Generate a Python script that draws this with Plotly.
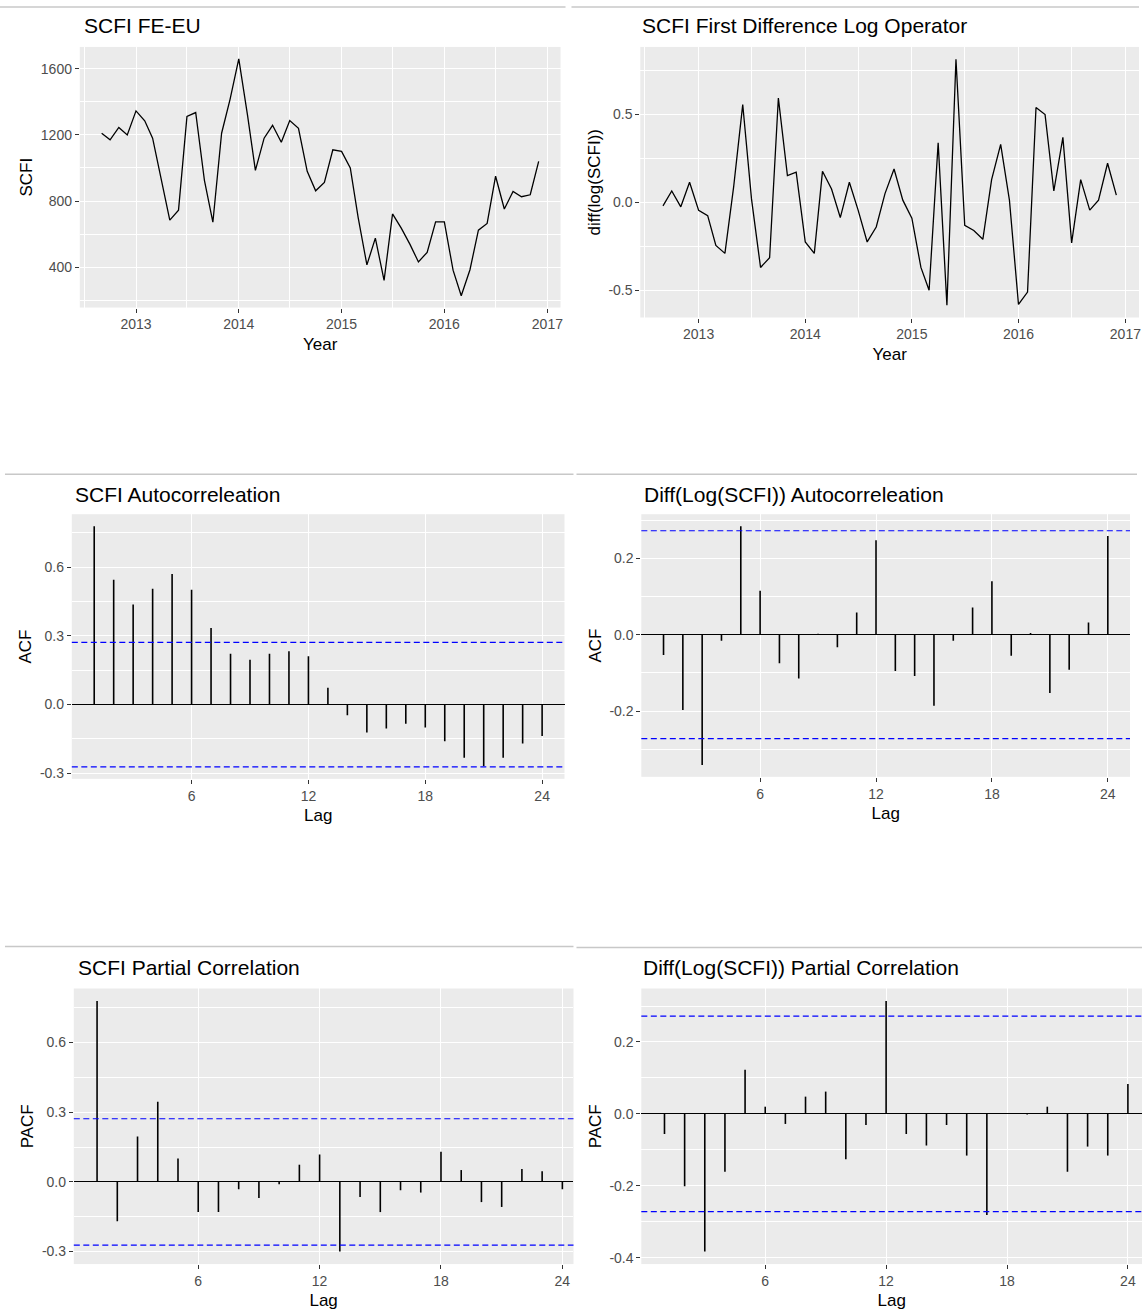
import plotly.graph_objects as go
import pandas as pd

W, H = 1145, 1313
FONT = "Liberation Sans, Arial, sans-serif"

# ---------------- data ----------------
months = pd.date_range("2012-09-01", periods=52, freq="MS")

scfi = [1210, 1170, 1245, 1200, 1345, 1285, 1180, 930, 685, 745, 1312, 1335,
        925, 672, 1210, 1415, 1660, 1320, 985, 1180, 1258, 1155, 1287, 1240,
        980, 862, 912, 1110, 1100, 1000, 700, 414, 576, 320, 722, 636,
        538, 432, 490, 674, 674, 382, 228, 385, 624, 665, 950, 752,
        858, 826, 838, 1040]

dlog = [-0.02, 0.065, -0.025, 0.115, -0.045, -0.075, -0.245, -0.29, 0.09, 0.557, 0.02, -0.37,
        -0.315, 0.594, 0.153, 0.172, -0.225, -0.29, 0.177, 0.076, -0.086, 0.115, -0.044, -0.225,
        -0.14, 0.05, 0.19, 0.013, -0.09, -0.37, -0.50, 0.34, -0.585, 0.815, -0.13, -0.16,
        -0.21, 0.13, 0.33, 0.013, -0.58, -0.51, 0.54, 0.50, 0.065, 0.37, -0.23, 0.13,
        -0.044, 0.013, 0.223, 0.042]

lags = list(range(1, 25))

acf_scfi = [0.779, 0.545, 0.437, 0.506, 0.570, 0.501, 0.334, 0.222, 0.196, 0.222, 0.233, 0.211,
            0.073, -0.047, -0.122, -0.105, -0.084, -0.100, -0.160, -0.233, -0.269, -0.233, -0.170, -0.138]

acf_dlog = [-0.053, -0.197, -0.341, -0.016, 0.284, 0.115, -0.075, -0.115, 0.002, -0.033, 0.058, 0.247,
            -0.095, -0.108, -0.186, -0.016, 0.071, 0.140, -0.055, 0.004, -0.153, -0.092, 0.032, 0.258]

pacf_scfi = [0.779, -0.170, 0.196, 0.345, 0.101, -0.130, -0.130, -0.032, -0.069, -0.010, 0.074, 0.118,
             -0.300, -0.065, -0.130, -0.036, -0.046, 0.130, 0.051, -0.087, -0.108, 0.056, 0.046, -0.032]

pacf_dlog = [-0.056, -0.201, -0.383, -0.161, 0.123, 0.020, -0.028, 0.048, 0.062, -0.126, -0.031, 0.314,
             -0.056, -0.088, -0.031, -0.116, -0.281, 0.001, -0.002, 0.020, -0.161, -0.091, -0.116, 0.083]

ci_scfi = 0.272
ci_dlog = 0.272

titles = ["SCFI FE-EU", "SCFI First Difference Log Operator",
          "SCFI Autocorreleation", "Diff(Log(SCFI)) Autocorreleation",
          "SCFI Partial Correlation", "Diff(Log(SCFI)) Partial Correlation"]
xtitles = ["Year", "Year", "Lag", "Lag", "Lag", "Lag"]
ytitles = ["SCFI", "diff(log(SCFI))", "ACF", "ACF", "PACF", "PACF"]

year_ticks = ["2013-01-01", "2014-01-01", "2015-01-01", "2016-01-01", "2017-01-01"]
year_labels = ["2013", "2014", "2015", "2016", "2017"]
half_years = ["2012-07-01", "2013-07-01", "2014-07-01", "2015-07-01", "2016-07-01"]
lag_ticks = [6, 12, 18, 24]
lag_labels = ["6", "12", "18", "24"]

yt1 = [400, 800, 1200, 1600]; yl1 = ["400", "800", "1200", "1600"]; ym1 = [200, 600, 1000, 1400]
yt2 = [-0.5, 0.0, 0.5]; yl2 = ["-0.5", "0.0", "0.5"]; ym2 = [-0.25, 0.25, 0.75]
yt3 = [-0.3, 0.0, 0.3, 0.6]; yl3 = ["-0.3", "0.0", "0.3", "0.6"]; ym3 = [-0.15, 0.15, 0.45, 0.75]
yt4 = [-0.2, 0.0, 0.2]; yl4 = ["-0.2", "0.0", "0.2"]; ym4 = [-0.3, -0.1, 0.1, 0.3]
yt6 = [-0.4, -0.2, 0.0, 0.2]; yl6 = ["-0.4", "-0.2", "0.0", "0.2"]; ym6 = [-0.3, -0.1, 0.1, 0.3]

# ---------------- layout geometry (pixels) ----------------
boxes = {1: (80, 562, 47, 308), 2: (642, 1142, 47, 318),
         3: (72, 566, 515, 780), 4: (643, 1133, 515, 778),
         5: (74, 575, 990, 1266), 6: (643, 1145, 990, 1266)}
title_pos = {1: (82, 26), 2: (642, 26), 3: (73, 495), 4: (644, 495), 5: (76, 969), 6: (643, 969)}


def expand(lo, hi, f=0.05):
    d = (hi - lo) * f
    return [lo - d, hi + d]


def stems(xv, yv):
    xs, ys = [], []
    for a, b in zip(xv, yv):
        xs += [a, a, None]
        ys += [0, b, None]
    return xs, ys


t0, t1 = months[0], months[-1]
span = t1 - t0
date_range = [t0 - span * 0.05, t1 + span * 0.05]

fig = go.Figure()

fig.add_trace(go.Scatter(x=months, y=scfi, mode="lines", line=dict(color="black", width=1.3),
                         xaxis="x", yaxis="y", showlegend=False))
fig.add_trace(go.Scatter(x=months, y=dlog, mode="lines", line=dict(color="black", width=1.3),
                         xaxis="x2", yaxis="y2", showlegend=False))

acf_sets = {3: (acf_scfi, ci_scfi), 4: (acf_dlog, ci_dlog), 5: (pacf_scfi, ci_scfi), 6: (pacf_dlog, ci_dlog)}
for i, (vals, ci) in acf_sets.items():
    xs, ys = stems(lags, vals)
    fig.add_trace(go.Scatter(x=xs, y=ys, mode="lines", line=dict(color="black", width=1.6),
                             xaxis=f"x{i}", yaxis=f"y{i}", showlegend=False, connectgaps=False))

common = dict(showgrid=True, gridcolor="white", gridwidth=1.3, zeroline=False, showline=False,
              ticks="outside", ticklen=4, tickwidth=1, tickcolor="#333333",
              tickfont=dict(family=FONT, size=14, color="#4D4D4D"))

yinfo = {
    1: (yt1, yl1, ym1, expand(min(scfi), max(scfi))),
    2: (yt2, yl2, ym2, expand(min(dlog), max(dlog))),
    3: (yt3, yl3, ym3, expand(min(min(acf_scfi), -ci_scfi), max(max(acf_scfi), ci_scfi))),
    4: (yt4, yl4, ym4, expand(min(min(acf_dlog), -ci_dlog), max(max(acf_dlog), ci_dlog))),
    5: (yt3, yl3, ym3, expand(min(min(pacf_scfi), -ci_scfi), max(max(pacf_scfi), ci_scfi))),
    6: (yt6, yl6, ym6, expand(min(min(pacf_dlog), -ci_dlog), max(max(pacf_dlog), ci_dlog))),
}
lag_ranges = {3: [-0.15, 25.15], 4: [-0.15, 25.15], 5: [-0.15, 24.55], 6: [-0.15, 24.70]}

layout = dict(width=W, height=H, margin=dict(l=0, r=0, t=0, b=0),
              paper_bgcolor="white", plot_bgcolor="#EBEBEB", showlegend=False,
              font=dict(family=FONT))

for i in range(1, 7):
    l, r, t, b = boxes[i]
    xa = dict(common)
    xa.update(domain=[l / W, r / W], anchor=f"y{i}",
              title=dict(text=xtitles[i - 1], font=dict(family=FONT, size=17, color="black"), standoff=6))
    if i <= 2:
        xa.update(type="date", range=date_range, tickvals=year_ticks, ticktext=year_labels,
                  minor=dict(tickvals=half_years, showgrid=True, gridcolor="white", gridwidth=0.6, ticks=""))
    else:
        xa.update(range=lag_ranges[i], tickvals=lag_ticks, ticktext=lag_labels)
    ya = dict(common)
    tv, tl, tm, rng = yinfo[i]
    ya.update(domain=[1 - b / H, 1 - t / H], anchor=f"x{i}", range=rng, tickvals=tv, ticktext=tl,
              minor=dict(tickvals=tm, showgrid=True, gridcolor="white", gridwidth=0.6, ticks=""),
              title=dict(text=ytitles[i - 1], font=dict(family=FONT, size=17, color="black"), standoff=3))
    if i >= 3:
        ya.update(zeroline=True, zerolinecolor="black", zerolinewidth=1.2)
    sfx = "" if i == 1 else str(i)
    layout["xaxis" + sfx] = xa
    layout["yaxis" + sfx] = ya

annotations = []
for i in range(1, 7):
    tx, ty = title_pos[i]
    annotations.append(dict(text=titles[i - 1], x=tx / W, y=1 - ty / H, xref="paper", yref="paper",
                            xanchor="left", yanchor="middle", showarrow=False,
                            font=dict(family=FONT, size=21, color="black")))
layout["annotations"] = annotations

shapes = []
for i, (vals, ci) in acf_sets.items():
    for c in (ci, -ci):
        shapes.append(dict(type="line", xref=f"x{i} domain", yref=f"y{i}", x0=0, x1=1, y0=c, y1=c,
                           line=dict(color="#0000FF", width=1.2, dash="6px,3.5px"), layer="above"))
# row separators
for (x0, x1, y) in [(0, 567, 7), (573, 1142, 7), (5, 575, 475), (578, 1140, 475), (5, 575, 948), (578, 1145, 949)]:
    shapes.append(dict(type="line", xref="paper", yref="paper", x0=x0 / W, x1=x1 / W,
                       y0=1 - y / H, y1=1 - y / H, line=dict(color="#C8C8C8", width=1.5)))
layout["shapes"] = shapes

fig.update_layout(**layout)
fig.write_html("out.html", config={"displayModeBar": False},
               post_script="document.body.style.margin='0px';document.body.style.overflow='hidden';")
